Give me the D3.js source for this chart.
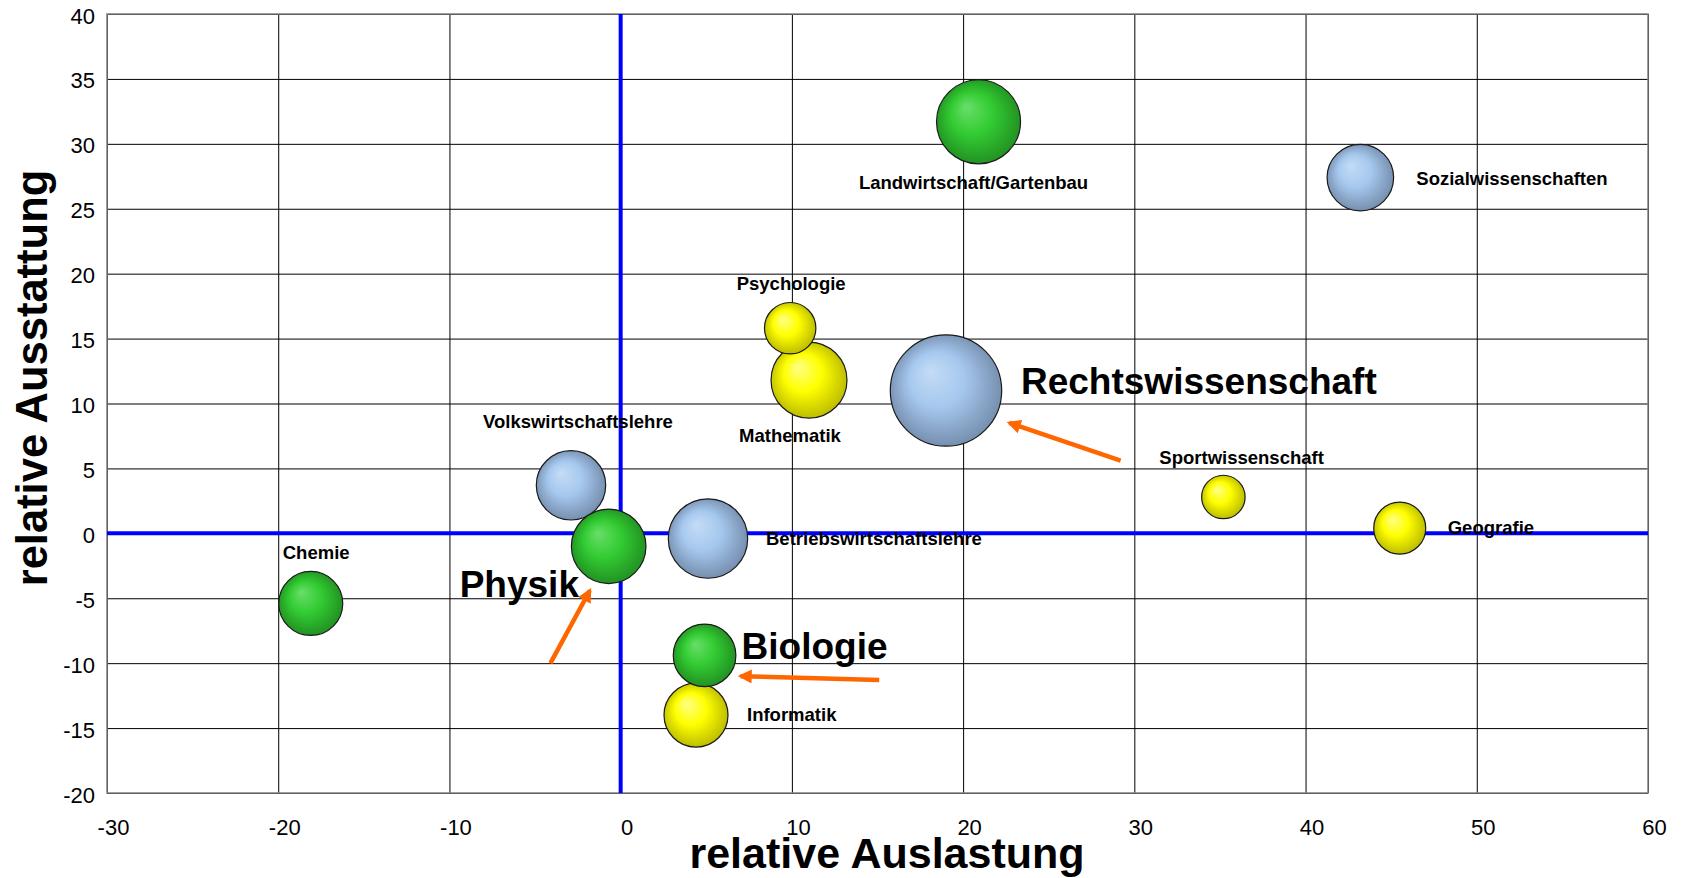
<!DOCTYPE html>
<html>
<head>
<meta charset="utf-8">
<script src="https://cdn.jsdelivr.net/npm/d3@7"></script>
<style>
    body { margin: 0; background: #fff; }
    text { font-family: "Liberation Sans", Arial, Helvetica, sans-serif; }
</style>
</head>
<body>
<div class="container"></div>
<script>
// data
var faecher = ['Informatik', 'Mathematik', 'Psychologie', 'Sportwissenschaft', 'Geografie',
    'Volkswirtschaftslehre', 'Betriebswirtschaftslehre', 'Rechtswissenschaft', 'Sozialwissenschaften',
    'Chemie', 'Physik', 'Biologie', 'Landwirtschaft/Gartenbau'];
var auslastung = [4.4, 11.0, 9.9, 35.2, 45.5, -2.9, 5.1, 19.0, 43.2, -18.1, -0.7, 4.9, 20.9];
var ausstattung = [-14.0, 11.8, 15.8, 2.8, 0.4, 3.7, -0.4, 11.0, 27.4, -5.4, -1.0, -9.4, 31.7];
var groesse = [33.0, 46.5, 21.3, 15.2, 21.8, 38.8, 50.8, 100, 35.7, 33.0, 44.8, 31.6, 56.9];
var gruppe = ['gelb', 'gelb', 'gelb', 'gelb', 'gelb', 'blau', 'blau', 'blau', 'blau',
    'gruen', 'gruen', 'gruen', 'gruen'];

var xTicks = [-30, -20, -10, 0, 10, 20, 30, 40, 50, 60];
var yTicks = [-20, -15, -10, -5, 0, 5, 10, 15, 20, 25, 30, 35, 40];

// arrows (data units)
var pfeilVonX = [29.2, -4.1, 15.1];
var pfeilVonY = [5.6, -10.0, -11.3];
var pfeilNachX = [22.7, -1.8, 7.0];
var pfeilNachY = [8.5, -4.4, -11.0];

const WIDTH = 1681;
const HEIGHT = 878;
const LEFT = 107, TOP = 14, RIGHT = 1648, BOTTOM = 793;

// label placement relative to bubble centre
var labelLayout = {
    'Chemie': [-28, -44, 'start', 18.5],
    'Volkswirtschaftslehre': [-88, -57, 'start', 18.5],
    'Physik': [-149, 51, 'start', 37],
    'Betriebswirtschaftslehre': [58, 6, 'start', 18.5],
    'Biologie': [37, 4, 'start', 37],
    'Informatik': [51, 6, 'start', 18.5],
    'Mathematik': [-19, 62, 'middle', 18.5],
    'Psychologie': [1, -38, 'middle', 18.5],
    'Landwirtschaft/Gartenbau': [-5, 67, 'middle', 18.5],
    'Rechtswissenschaft': [75, 3, 'start', 37],
    'Sozialwissenschaften': [56, 7, 'start', 18.5],
    'Sportwissenschaft': [-64, -33, 'start', 18.5],
    'Geografie': [48, 6, 'start', 18.5]
};

var farben = {
    gelb: ['#ffff8a', '#ffff00', '#b4b400'],
    blau: ['#c4dcf6', '#a6c8ee', '#6f87a6'],
    gruen: ['#6ade6a', '#33cc33', '#1f8a1f']
};

var points = faecher.map(function (f, i) {
    return { name: f, x: auslastung[i], y: ausstattung[i], s: groesse[i], g: gruppe[i] };
});

var svg = d3.select('.container').append('svg')
    .attr('width', WIDTH)
    .attr('height', HEIGHT);

var defs = svg.append('defs');
Object.keys(farben).forEach(function (k) {
    var grad = defs.append('radialGradient')
        .attr('id', 'grad-' + k)
        .attr('cx', '50%').attr('cy', '50%').attr('r', '55%')
        .attr('fx', '35%').attr('fy', '32%');
    grad.append('stop').attr('offset', '0%').attr('stop-color', farben[k][0]);
    grad.append('stop').attr('offset', '45%').attr('stop-color', farben[k][1]);
    grad.append('stop').attr('offset', '100%').attr('stop-color', farben[k][2]);
});

defs.append('marker')
    .attr('id', 'spitze')
    .attr('markerUnits', 'userSpaceOnUse')
    .attr('viewBox', '0 0 10 10')
    .attr('refX', 8).attr('refY', 5)
    .attr('markerWidth', 16).attr('markerHeight', 14)
    .attr('orient', 'auto')
    .append('path')
    .attr('d', 'M0,0 L10,5 L0,10 z')
    .attr('fill', '#ff6600');

//scales
var xScale = d3.scaleLinear().domain([-30, 60]).range([LEFT, RIGHT]);
var yScale = d3.scaleLinear().domain([-20, 40]).range([BOTTOM, TOP]);
var rScale = d3.scaleSqrt().domain([0, 100]).range([0, 55.7]);

// grid
svg.append('g')
    .attr('transform', 'translate(0,' + BOTTOM + ')')
    .call(d3.axisBottom(xScale).tickValues(xTicks).tickSize(-(BOTTOM - TOP)).tickFormat(''))
    .call(function (g) { g.select('.domain').remove(); })
    .selectAll('line').attr('stroke', '#000').attr('stroke-width', 1);

svg.append('g')
    .attr('transform', 'translate(' + LEFT + ',0)')
    .call(d3.axisLeft(yScale).tickValues(yTicks).tickSize(-(RIGHT - LEFT)).tickFormat(''))
    .call(function (g) { g.select('.domain').remove(); })
    .selectAll('line').attr('stroke', '#000').attr('stroke-width', 1);

svg.append('rect')
    .attr('x', LEFT).attr('y', TOP)
    .attr('width', RIGHT - LEFT).attr('height', BOTTOM - TOP)
    .attr('fill', 'none').attr('stroke', '#808080').attr('stroke-width', 1.5);

// tick labels
var xAxis = svg.append('g')
    .attr('transform', 'translate(0,' + BOTTOM + ')')
    .call(d3.axisBottom(xScale).tickValues(xTicks).tickSize(0).tickFormat(function (d) { return String(d); }));
xAxis.select('.domain').remove();
xAxis.selectAll('text')
    .attr('y', 42).attr('dy', 0).attr('dx', 6)
    .attr('font-size', 22).attr('font-family', null).attr('fill', '#000');

var yAxis = svg.append('g')
    .attr('transform', 'translate(' + LEFT + ',0)')
    .call(d3.axisLeft(yScale).tickValues(yTicks).tickSize(0).tickFormat(function (d) { return String(d); }));
yAxis.select('.domain').remove();
yAxis.selectAll('text')
    .attr('x', -12).attr('dy', 9)
    .attr('font-size', 22).attr('font-family', null).attr('fill', '#000');

// zero lines
svg.append('line')
    .attr('x1', xScale(0)).attr('x2', xScale(0))
    .attr('y1', TOP).attr('y2', BOTTOM)
    .attr('stroke', '#0000ff').attr('stroke-width', 4);
svg.append('line')
    .attr('x1', LEFT).attr('x2', RIGHT)
    .attr('y1', yScale(0)).attr('y2', yScale(0))
    .attr('stroke', '#0000ff').attr('stroke-width', 4);

// bubbles
svg.append('g').selectAll('circle').data(points)
    .enter().append('circle')
    .attr('cx', function (d) { return xScale(d.x); })
    .attr('cy', function (d) { return yScale(d.y); })
    .attr('r', function (d) { return rScale(d.s); })
    .attr('fill', function (d) { return 'url(#grad-' + d.g + ')'; })
    .attr('stroke', '#1a1a1a')
    .attr('stroke-width', 1.2);

// arrows
svg.append('g').selectAll('line').data(pfeilVonX)
    .enter().append('line')
    .attr('x1', function (d, i) { return xScale(pfeilVonX[i]); })
    .attr('y1', function (d, i) { return yScale(pfeilVonY[i]); })
    .attr('x2', function (d, i) { return xScale(pfeilNachX[i]); })
    .attr('y2', function (d, i) { return yScale(pfeilNachY[i]); })
    .attr('stroke', '#ff6600')
    .attr('stroke-width', 4.5)
    .attr('marker-end', 'url(#spitze)');

// labels
svg.append('g').selectAll('text').data(points)
    .enter().append('text')
    .attr('x', function (d) { return xScale(d.x) + labelLayout[d.name][0]; })
    .attr('y', function (d) { return yScale(d.y) + labelLayout[d.name][1]; })
    .attr('text-anchor', function (d) { return labelLayout[d.name][2]; })
    .attr('font-size', function (d) { return labelLayout[d.name][3]; })
    .attr('font-weight', 'bold')
    .text(function (d) { return d.name; });

// axis titles
svg.append('text')
    .attr('x', 887).attr('y', 868)
    .attr('text-anchor', 'middle')
    .attr('font-size', 43).attr('font-weight', 'bold')
    .text('relative Auslastung');

svg.append('text')
    .attr('transform', 'translate(47,378) rotate(-90)')
    .attr('text-anchor', 'middle')
    .attr('font-size', 43.5).attr('font-weight', 'bold')
    .text('relative Ausstattung');
</script>
</body>
</html>
